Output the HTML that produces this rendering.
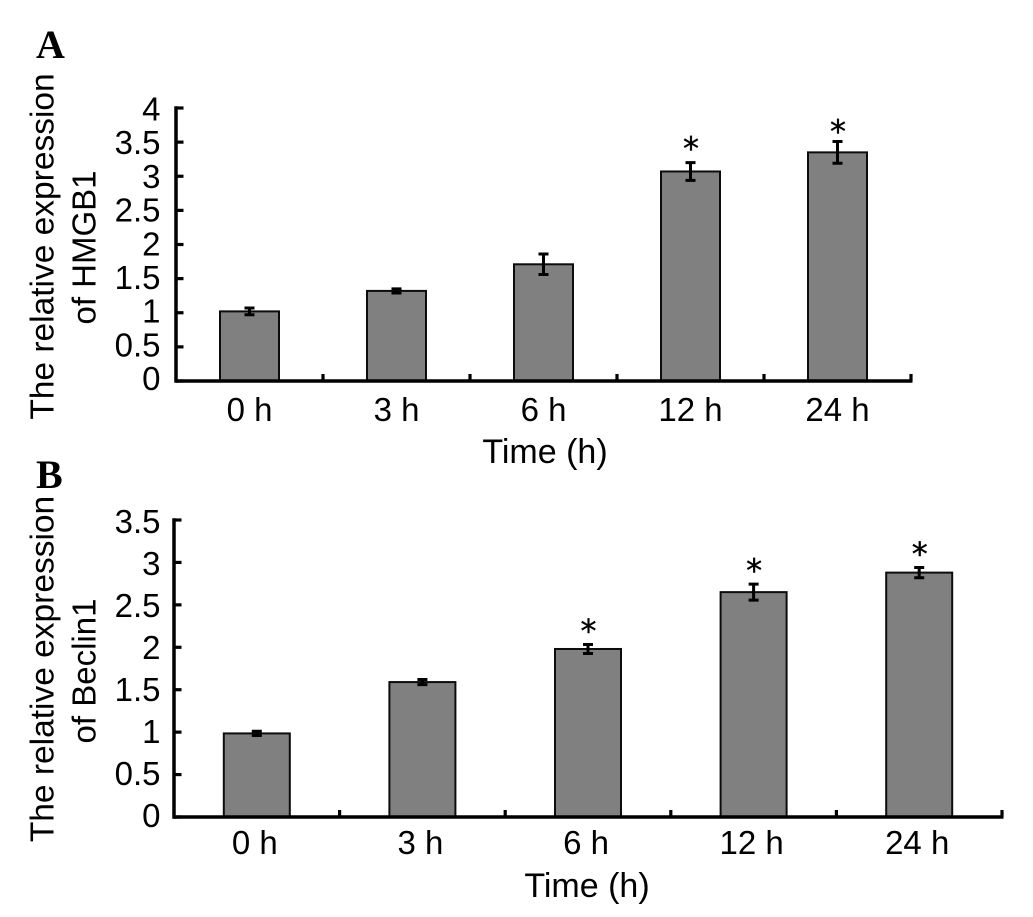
<!DOCTYPE html>
<html lang="en">
<head>
<meta charset="utf-8">
<title>Relative expression of HMGB1 and Beclin1 over time</title>
<style>
html,body{margin:0;padding:0;background:#fff;width:1033px;height:917px;overflow:hidden}
svg{display:block}
text{font-family:"Liberation Sans",Arial,sans-serif;fill:#000}
.panel{font-family:"Liberation Serif","Times New Roman",serif;font-weight:bold;font-size:40px}
.title{font-size:33.5px;text-anchor:middle}
.title2{font-size:33px;text-anchor:middle}
.xtitle{font-size:34px;text-anchor:middle}
.tick{font-size:33px}
.star{font-family:"DejaVu Sans",sans-serif;font-size:32px;text-anchor:middle;stroke:#000;stroke-width:0.4px}
</style>
</head>
<body>
<svg id="figure" xmlns="http://www.w3.org/2000/svg" width="1033" height="917" viewBox="0 0 1033 917">
  <rect width="1033" height="917" fill="#fff"/>
  <text class="panel" x="36" y="58">A</text>
  <text class="panel" x="36" y="488">B</text>

  <g id="chart-a"></g>
  <text class="title" transform="translate(53.5 246.5) rotate(-90)">The relative expression</text>
  <text class="title2" transform="translate(95.5 247.5) rotate(-90)">of HMGB1</text>
  <text class="xtitle" x="545" y="463">Time (h)</text>

  <g id="chart-b"></g>
  <text class="title" transform="translate(53.5 669) rotate(-90)">The relative expression</text>
  <text class="title2" transform="translate(95.5 671) rotate(-90)">of Beclin1</text>
  <text class="xtitle" x="587" y="897">Time (h)</text>
</svg>
<script>
// Shared categories
const categories = ["0 h", "3 h", "6 h", "12 h", "24 h"];

// Panel A: HMGB1
const hmgb1Values = [1.02, 1.32, 1.71, 3.07, 3.35];
const hmgb1Errors = [0.05, 0.03, 0.15, 0.13, 0.16];
const hmgb1StarLift = [null, null, null, 0.26, 0.2];
const hmgb1Ticks = [0, 0.5, 1, 1.5, 2, 2.5, 3, 3.5, 4];

// Panel B: Beclin1
const beclin1Values = [0.985, 1.59, 1.98, 2.65, 2.88];
const beclin1Errors = [0.025, 0.03, 0.053, 0.094, 0.06];
const beclin1StarLift = [null, null, 0.2, 0.2, 0.2];
const beclin1Ticks = [0, 0.5, 1, 1.5, 2, 2.5, 3, 3.5];

const NS = "http://www.w3.org/2000/svg";

function make(parent, tag, attrs, text) {
  const el = document.createElementNS(NS, tag);
  for (const k in attrs) el.setAttribute(k, attrs[k]);
  if (text !== undefined) el.textContent = text;
  parent.appendChild(el);
  return el;
}

function drawChart(root, frame, values, errors, starLift, ticks) {
  const yMax = ticks[ticks.length - 1];
  const band = (frame.right - frame.left) / categories.length;
  const xCenter = i => frame.left + band * (i + 0.5);
  const y = v => frame.bottom - (v / yMax) * (frame.bottom - frame.top);
  const ink = "#000";

  // Bars, error bars and significance stars
  values.forEach((v, i) => {
    const cx = xCenter(i);
    const bar = make(root, "rect", {
      x: cx - frame.barW / 2, y: y(v), width: frame.barW, height: frame.bottom - y(v),
      fill: "#808080", stroke: "#0c0c0c", "stroke-width": 2
    });
    
    

    const hi = y(v + errors[i]), lo = y(v - errors[i]);
    const err = make(root, "path", {
      d: `M${cx} ${hi}V${lo}M${cx - 5} ${hi}H${cx + 5}M${cx - 5} ${lo}H${cx + 5}`,
      fill: "none", stroke: ink, "stroke-width": 3
    });
    
    

    if (starLift[i] !== null) {
      const star = make(root, "text", {
        class: "star", x: cx + 0.5, y: y(v + errors[i] + starLift[i]) + 14.5
      }, "*");
      
      
    }

    const label = make(root, "text", {
      class: "tick", "text-anchor": "middle", x: cx + frame.labelDx, y: frame.labelY
    }, categories[i]);
    
    
  });

  // Y axis
  const yAxis = make(root, "line", {
    x1: frame.left, x2: frame.left, y1: frame.top - 1.75, y2: frame.bottom + 1.75,
    stroke: ink, "stroke-width": 3.5
  });
  
  

  // X axis
  const xAxis = make(root, "line", {
    x1: frame.left, x2: frame.right + 1.5, y1: frame.bottom, y2: frame.bottom,
    stroke: ink, "stroke-width": 3.5
  });
  
  

  // Y ticks and labels
  ticks.forEach(t => {
    const mark = make(root, "line", {
      x1: frame.left, x2: frame.left + 7.5, y1: y(t), y2: y(t), stroke: ink, "stroke-width": 3.2
    });
    
    
    const label = make(root, "text", {
      class: "tick", "text-anchor": "end", x: 160.5,
      y: y(t) + frame.labelBase + frame.labelSlope * t
    }, String(t));
    
    
  });

  // X tick marks at category boundaries
  categories.forEach((c, i) => {
    const x = frame.left + band * (i + 1);
    const mark = make(root, "line", {
      x1: x, x2: x, y1: frame.bottom, y2: frame.bottom - 7, stroke: ink, "stroke-width": 3.2
    });
    
    
  });
}

drawChart(document.getElementById("chart-a"),
  {left: 176, right: 911, top: 108, bottom: 381, barW: 59, labelY: 421, labelDx: 0, labelBase: 9, labelSlope: 0.875},
  hmgb1Values, hmgb1Errors, hmgb1StarLift, hmgb1Ticks);

drawChart(document.getElementById("chart-b"),
  {left: 174, right: 1002, top: 520, bottom: 817, barW: 66, labelY: 854, labelDx: -2, labelBase: 10, labelSlope: 0.86},
  beclin1Values, beclin1Errors, beclin1StarLift, beclin1Ticks);
</script>
</body>
</html>
